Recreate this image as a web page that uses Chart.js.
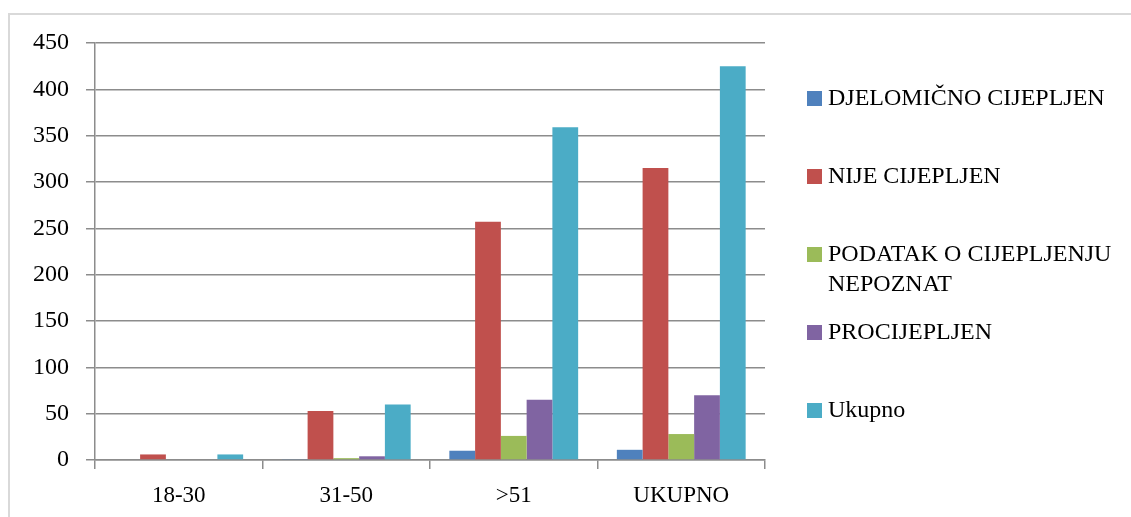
<!DOCTYPE html>
<html>
<head>
<meta charset="utf-8">
<script src="https://cdn.jsdelivr.net/npm/chart.js@4.4.1/dist/chart.umd.min.js"></script>
<style>
  html, body { margin: 0; padding: 0; background: #fff; }
  #wrap { position: relative; width: 1131px; height: 517px; overflow: hidden; }
  #frame { position: absolute; left: 8px; top: 13px; width: 1140px; height: 520px; border: 2px solid #d9d9d9; box-sizing: border-box; }
  canvas { position: absolute; left: 0; top: 0; }
  .lg { position: absolute; left: 807px; font-family: "Liberation Serif", serif; font-size: 24px; line-height: 30px; color: #000; white-space: nowrap; }
  .lg .box { position: absolute; left: 0; width: 15px; height: 15px; }
  .lg .txt { position: absolute; left: 21px; top: 0; }
</style>
</head>
<body>
<div id="wrap">
  <div id="frame"></div>
  <canvas id="c" width="1131" height="517"></canvas>
  <div id="legend"></div>
</div>
<script>
const categories = ["18-30", "31-50", ">51", "UKUPNO"];
const seriesNames = ["DJELOMIČNO CIJEPLJEN", "NIJE CIJEPLJEN", "PODATAK O CIJEPLJENJU NEPOZNAT", "PROCIJEPLJEN", "Ukupno"];
const legendLines = [["DJELOMIČNO CIJEPLJEN"], ["NIJE CIJEPLJEN"], ["PODATAK O CIJEPLJENJU", "NEPOZNAT"], ["PROCIJEPLJEN"], ["Ukupno"]];
const djelomicno = [0, 1, 10, 11];
const nije = [6, 53, 257, 315];
const nepoznat = [0, 2, 26, 28];
const procijepljen = [0, 4, 65, 70];
const ukupno = [6, 60, 359, 425];
const colors = ["#4F81BD", "#C0504D", "#9BBB59", "#8064A2", "#4BACC6"];
const yTicks = [0, 50, 100, 150, 200, 250, 300, 350, 400, 450];

const values = [djelomicno, nije, nepoznat, procijepljen, ukupno];
const datasets = values.map((v, i) => ({
  label: seriesNames[i],
  data: v,
  backgroundColor: colors[i],
  borderWidth: 0,
  categoryPercentage: 0.769,
  barPercentage: 1.0
}));

const gridColor = "#8c8c8c";
new Chart(document.getElementById("c"), {
  type: "bar",
  data: { labels: categories, datasets },
  options: {
    responsive: false,
    animation: false,
    layout: { padding: { left: 0, right: 366, top: 43, bottom: 0 } },
    plugins: { legend: { display: false }, tooltip: { enabled: false } },
    scales: {
      x: {
        grid: { display: true, drawOnChartArea: false, color: gridColor, lineWidth: 1.5, tickLength: 9, offset: true },
        border: { display: true, color: gridColor, width: 1.5 },
        ticks: { color: "#000", font: { family: "Liberation Serif", size: 23 }, padding: 13, maxRotation: 0 },
        afterFit: (s) => { s.height = 57; }
      },
      y: {
        min: 0, max: 450,
        afterBuildTicks: (s) => { s.ticks = yTicks.map(v => ({ value: v })); },
        grid: { color: gridColor, lineWidth: 1.5, tickLength: 9 },
        border: { display: true, color: gridColor, width: 1.5 },
        ticks: { color: "#000", font: { family: "Liberation Serif", size: 24 }, padding: 17 },
        afterFit: (s) => { s.width = 95; }
      }
    }
  }
});

const legendTops = [91, 169, 247, 325, 403];
const lg = document.getElementById("legend");
legendLines.forEach((lines, i) => {
  const d = document.createElement("div");
  d.className = "lg";
  d.style.top = (legendTops[i] - 9) + "px";
  d.innerHTML = '<div class="box" style="top:9px;background:' + colors[i] + '"></div><div class="txt">' + lines.join("<br>") + '</div>';
  lg.appendChild(d);
});
</script>
</body>
</html>
